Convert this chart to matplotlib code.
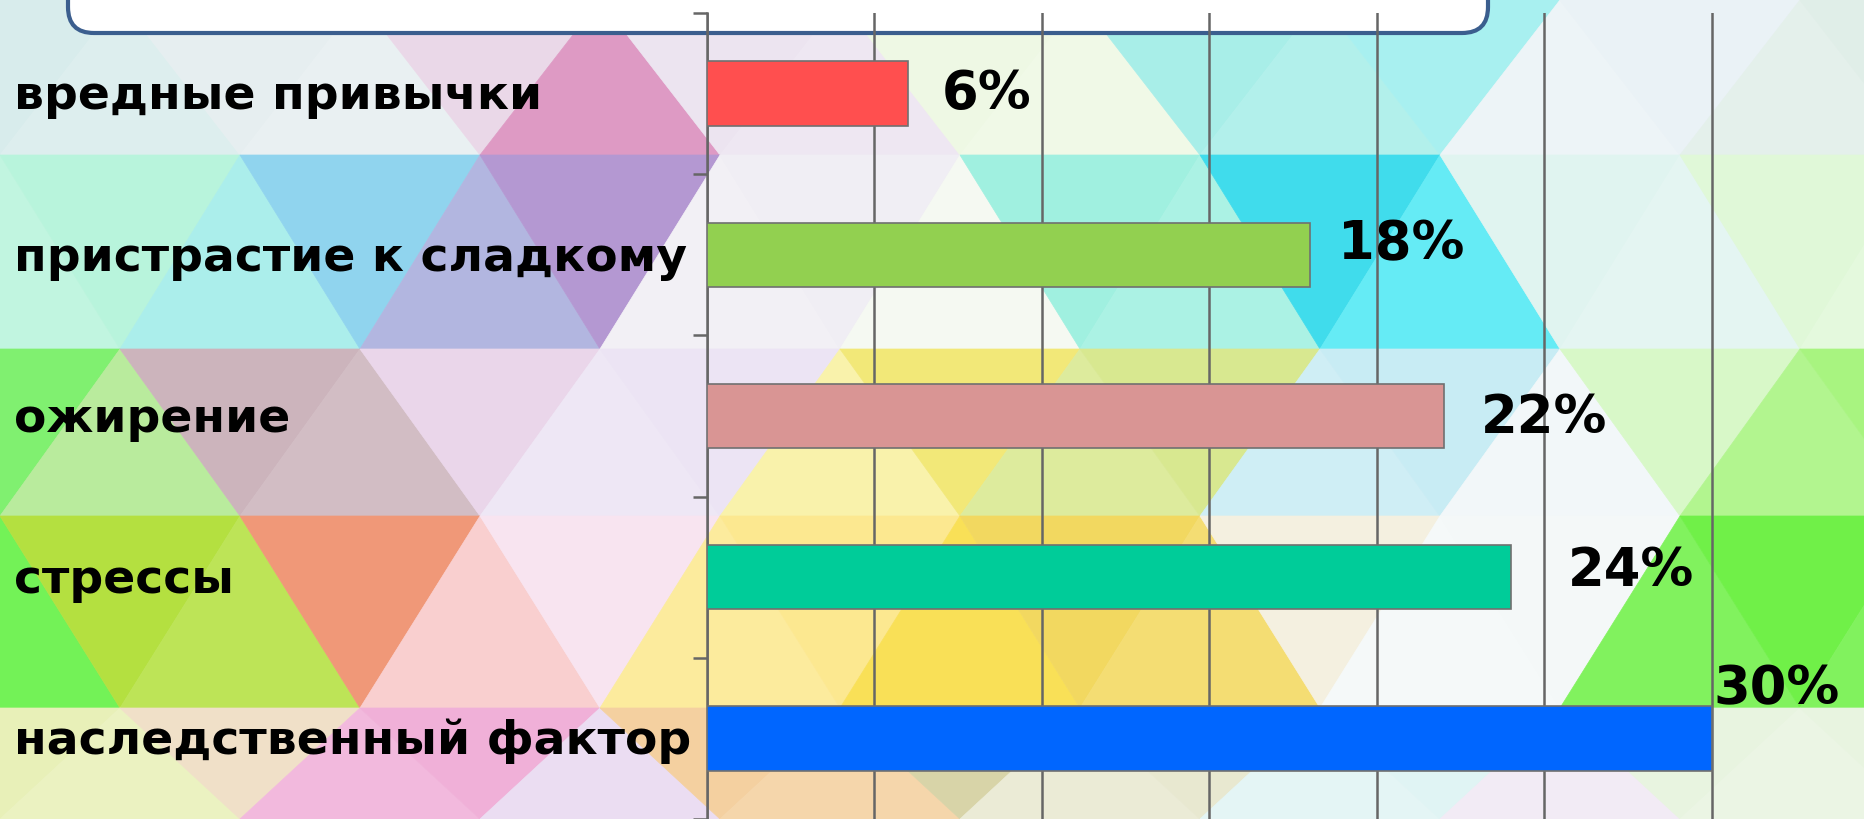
import matplotlib
matplotlib.use("Agg")
import matplotlib.pyplot as plt
from matplotlib.patches import Polygon, FancyBboxPatch
from matplotlib.colors import to_rgb
import matplotlib.transforms as mtransforms

# ---- data ----
categories = ["вредные привычки", "пристрастие к сладкому", "ожирение",
              "стрессы", "наследственный фактор"]
values = [6, 18, 22, 24, 30]
value_labels = ["6%", "18%", "22%", "24%", "30%"]
bar_colors = ["#ff4f4f", "#92d050", "#d99594", "#00cc99", "#0066ff"]

# label placement (offsets from bar end, in data units)
label_dx = [1.0, 0.85, 1.1, 1.7, 0.06]
label_dy = [-0.03, -0.1, -0.02, -0.07, -0.34]

W, H = 1864, 819
DPI = 100
fig = plt.figure(figsize=(W / DPI, H / DPI), dpi=DPI)

# ---- decorative triangle mosaic background (pixel coordinates) ----
bg = fig.add_axes([0, 0, 1, 1], zorder=0)
bg.set_xlim(0, W)
bg.set_ylim(H, 0)
bg.axis("off")

swatches = [
    (80, 75, "#d8ecec"), (300, 75, "#e6eef0"), (470, 75, "#ead8e8"),
    (600, 60, "#da8cbc"), (660, 120, "#c0a4d4"), (800, 75, "#ece4f0"),
    (1000, 75, "#eef8e4"), (1250, 75, "#a8eee8"), (1450, 75, "#a8f0f0"),
    (1620, 75, "#eaf2f6"), (1790, 75, "#e0eee8"),
    (60, 250, "#b8f4dc"), (200, 250, "#a0ece8"), (380, 250, "#90d4ee"),
    (520, 250, "#a8acdc"), (610, 250, "#b498d2"), (760, 250, "#f0eef4"),
    (950, 250, "#f4f8f0"), (1150, 250, "#a0f0e0"), (1350, 250, "#40dcec"),
    (1480, 250, "#50e8f4"), (1630, 250, "#e0f4f0"), (1790, 250, "#e0f8d8"),
    (40, 430, "#80f070"), (180, 430, "#b0e890"), (300, 400, "#ccb4bc"),
    (500, 430, "#ead6ea"), (650, 430, "#ece4f4"), (850, 430, "#f8f0a0"),
    (1000, 430, "#f2e878"), (1150, 430, "#d8e890"), (1350, 430, "#c8ecf4"),
    (1550, 430, "#f0f6f8"), (1720, 430, "#d8f8c8"), (1840, 430, "#a8f480"),
    (40, 610, "#60f040"), (180, 610, "#b4e040"), (300, 610, "#f09878"),
    (450, 610, "#f8c8c8"), (620, 610, "#f8e4f0"), (800, 610, "#fce890"),
    (950, 610, "#f8dc40"), (1100, 610, "#f2d860"), (1300, 610, "#f4f0e0"),
    (1500, 610, "#f4f8f8"), (1790, 610, "#70f048"),
    (60, 770, "#e8f0b8"), (250, 770, "#f0e0c8"), (420, 770, "#f0b0d8"),
    (600, 770, "#e8d8f0"), (800, 770, "#f4d0a0"), (1000, 770, "#d8d4a8"),
    (1150, 770, "#e8e8d0"), (1350, 770, "#e0f4f4"), (1550, 770, "#f0e8f4"),
    (1790, 770, "#e8f4e0"),
]


def swatch_color(cx, cy):
    best = min(swatches, key=lambda s: (s[0] - cx) ** 2 + (s[1] - cy) ** 2)
    return to_rgb(best[2])


def lighten(c, f):
    return tuple(v + (1 - v) * f for v in c)


row_edges = [0, 155, 349, 516, 708, H]
tri_w = 240
for r in range(len(row_edges) - 1):
    y0, y1 = row_edges[r], row_edges[r + 1]
    offset = (r % 2) * tri_w / 2
    for k in range(-3, int(W / (tri_w / 2)) + 3):
        x = offset + k * tri_w / 2
        if k % 2 == 0:
            pts = [(x, y1), (x + tri_w, y1), (x + tri_w / 2, y0)]
        else:
            pts = [(x, y0), (x + tri_w, y0), (x + tri_w / 2, y1)]
        cx = sum(p[0] for p in pts) / 3
        cy = sum(p[1] for p in pts) / 3
        col = swatch_color(cx, cy)
        if k % 2 == 0:
            col = lighten(col, 0.12)
        bg.add_patch(Polygon(pts, closed=True, facecolor=col,
                             edgecolor=col, linewidth=0.5))

# white title box with rounded corners
bg.add_patch(FancyBboxPatch((68, -60), 1488 - 68, 93,
                            boxstyle="round,pad=0,rounding_size=26",
                            facecolor="white", edgecolor="#3b5e8e",
                            linewidth=3.0, zorder=5))

# ---- bar chart ----
ax_left = 707 / W
ax_top = 13 / H
ax = fig.add_axes([ax_left, 0, 1 - ax_left, 1 - ax_top], zorder=2)
ax.patch.set_alpha(0)

y = list(range(len(categories)))
ax.barh(y, values, height=0.4, color=bar_colors, edgecolor="#707070",
        linewidth=1.2, zorder=3)

ax.set_xlim(0, 34.55)
ax.set_ylim(len(categories) - 0.5, -0.5)
ax.set_xticks(range(0, 31, 5))
ax.tick_params(axis="x", length=0, labelbottom=False)
ax.grid(axis="x", color="#666666", linewidth=1.8, zorder=1)
ax.grid(axis="y", visible=False)

ax.set_yticks([i - 0.5 for i in range(len(categories) + 1)])
ax.set_yticklabels([])
ax.tick_params(axis="y", length=10, width=1.8, color="#666666",
               direction="out")

for side in ["top", "right", "bottom"]:
    ax.spines[side].set_visible(False)
ax.spines["left"].set_color("#666666")
ax.spines["left"].set_linewidth(1.8)

# category names at the left edge of the figure
trans = mtransforms.blended_transform_factory(fig.transFigure, ax.transData)
for i, name in enumerate(categories):
    ax.text(14 / W, i + 0.02, name, transform=trans, ha="left", va="center",
            fontsize=34, fontweight="bold", family="DejaVu Sans",
            color="black", clip_on=False)

# value labels
for i, (v, lab) in enumerate(zip(values, value_labels)):
    ax.text(v + label_dx[i], i + label_dy[i], lab, ha="left",
            va="center_baseline", fontsize=38, fontweight="bold",
            family="DejaVu Sans", color="black", clip_on=False, zorder=4)

fig.savefig("out.png", dpi=DPI)
